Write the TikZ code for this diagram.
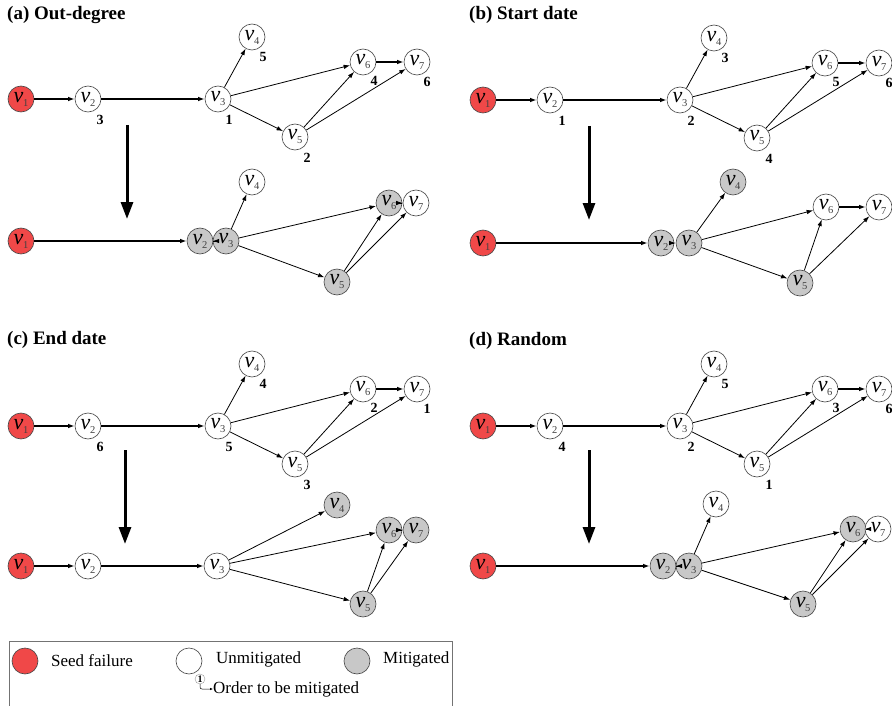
\documentclass[tikz,border=0pt]{standalone}
\usepackage{fontspec}
\setmainfont{Liberation Serif}
\usetikzlibrary{arrows.meta}
\definecolor{seedred}{RGB}{240,72,72}
\definecolor{mitgray}{RGB}{200,200,200}
\definecolor{rimcol}{RGB}{70,70,70}
\newcommand\vv[1]{\fontsize{22}{22}\selectfont\itshape v\kern-0.5pt\raisebox{-4pt}{\fontsize{10.5}{10.5}\selectfont\upshape\color{black!75}#1}}
\tikzset{
  vnode/.style={circle, draw=rimcol, line width=0.6pt, minimum size=26pt, inner sep=0pt, fill=white},
  seed/.style={vnode, fill=seedred},
  mit/.style={vnode, fill=mitgray},
  ord/.style={font=\fontsize{14}{14}\selectfont\bfseries, inner sep=0pt},
  ttl/.style={font=\fontsize{19}{19}\selectfont\bfseries, inner sep=0pt, anchor=west},
  thinedge/.style={-{Latex[length=6.5pt,width=4.5pt]}, line width=0.8pt},
  thickedge/.style={-{Latex[length=6.5pt,width=4.5pt]}, line width=1.7pt},
  bigarrow/.style={-{Triangle[length=17pt,width=12pt]}, line width=3pt},
  legtext/.style={font=\fontsize{17}{17}\selectfont, inner sep=0pt, anchor=west}
}
% top graph: prefix, order labels of v2..v7
\newcommand\topgraph[7]{%
  \node[seed]  (#1v1) at (21,99)  {\vv1};
  \node[vnode] (#1v2) at (88,99)  {\vv2};
  \node[vnode] (#1v3) at (218,99) {\vv3};
  \node[vnode] (#1v4) at (252,37) {\vv4};
  \node[vnode] (#1v5) at (295,137) {\vv5};
  \node[vnode] (#1v6) at (363,62) {\vv6};
  \node[vnode] (#1v7) at (417,62) {\vv7};
  \draw[thickedge] (#1v1) -- (#1v2);
  \draw[thickedge] (#1v2) -- (#1v3);
  \draw[thickedge] (#1v6) -- (#1v7);
  \draw[thinedge] (#1v3) -- (#1v4);
  \draw[thinedge] (#1v3) -- (#1v6);
  \draw[thinedge] (#1v3) -- (#1v5);
  \draw[thinedge] (#1v5) -- (#1v6);
  \draw[thinedge] (#1v5) -- (#1v7);
  \node[ord] (#1o2) at ([shift={(12,21)}]#1v2) {#2};
  \node[ord] (#1o3) at ([shift={(11,21)}]#1v3) {#3};
  \node[ord] (#1o4) at ([shift={(11,20)}]#1v4) {#4};
  \node[ord] (#1o5) at ([shift={(12,21)}]#1v5) {#5};
  \node[ord] (#1o6) at ([shift={(11,19)}]#1v6) {#6};
  \node[ord] (#1o7) at ([shift={(10,20)}]#1v7) {#7};
}
\begin{document}
\begin{tikzpicture}[x=1pt,y=-1pt]
\useasboundingbox[fill=white] (0,0) rectangle (892,706);

% ---------- (a) ----------
\begin{scope}
  \node[ttl] (ta) at (7,15) {(a) Out-degree};
  \topgraph{a}{3}{1}{5}{2}{4}{6}
  \coordinate (aA1) at (127,125);
  \coordinate (aA2) at (127,219);
  \draw[bigarrow] (aA1) -- (aA2);
  \node[seed]  (ab1) at (21,241)  {\vv1};
  \node[mit]   (ab2) at (200,241) {\vv2};
  \node[mit]   (ab3) at (226,241) {\vv3};
  \node[vnode] (ab4) at (252,182) {\vv4};
  \node[mit]   (ab5) at (337,282) {\vv5};
  \node[mit]   (ab6) at (389,203) {\vv6};
  \node[vnode] (ab7) at (416,203) {\vv7};
  \draw[thickedge] (ab1) -- (ab2);
  \draw[thinedge] (ab2) -- (ab3);
  \draw[thinedge] (ab3) -- (ab4);
  \draw[thinedge] (ab3) -- (ab6);
  \draw[thinedge] (ab3) -- (ab5);
  \draw[thinedge] (ab5) -- (ab6);
  \draw[thinedge] (ab5) -- (ab7);
  \draw[thinedge] (ab6) -- (ab7);
\end{scope}

% ---------- (b) ----------
\begin{scope}[shift={(462,1)}]
  \node[ttl] (tb) at (7,14) {(b) Start date};
  \topgraph{b}{1}{2}{3}{4}{5}{6}
  \coordinate (bA1) at (127,125);
  \coordinate (bA2) at (127,219);
  \draw[bigarrow] (bA1) -- (bA2);
  \node[seed]  (bb1) at (21,242)  {\vv1};
  \node[mit]   (bb2) at (199,242) {\vv2};
  \node[mit]   (bb3) at (227,242) {\vv3};
  \node[mit]   (bb4) at (271,181) {\vv4};
  \node[mit]   (bb5) at (338,282) {\vv5};
  \node[vnode] (bb6) at (364,206) {\vv6};
  \node[vnode] (bb7) at (417,206) {\vv7};
  \draw[thickedge] (bb1) -- (bb2);
  \draw[thinedge] (bb2) -- (bb3);
  \draw[thinedge] (bb3) -- (bb4);
  \draw[thinedge] (bb3) -- (bb6);
  \draw[thinedge] (bb3) -- (bb5);
  \draw[thinedge] (bb5) -- (bb6);
  \draw[thinedge] (bb5) -- (bb7);
  \draw[thickedge] (bb6) -- (bb7);
\end{scope}

% ---------- (c) ----------
\begin{scope}[shift={(0,327)}]
  \node[ttl] (tc) at (7,13) {(c) End date};
  \topgraph{c}{6}{5}{4}{3}{2}{1}
  \coordinate (cA1) at (125,123);
  \coordinate (cA2) at (125,217);
  \draw[bigarrow] (cA1) -- (cA2);
  \node[seed]  (cb1) at (21,239)  {\vv1};
  \node[vnode] (cb2) at (88,239)  {\vv2};
  \node[vnode] (cb3) at (217,239) {\vv3};
  \node[mit]   (cb4) at (337,178) {\vv4};
  \node[mit]   (cb5) at (363,277) {\vv5};
  \node[mit]   (cb6) at (389,203) {\vv6};
  \node[mit]   (cb7) at (416,203) {\vv7};
  \draw[thickedge] (cb1) -- (cb2);
  \draw[thickedge] (cb2) -- (cb3);
  \draw[thinedge] (cb3) -- (cb4);
  \draw[thinedge] (cb3) -- (cb6);
  \draw[thinedge] (cb3) -- (cb5);
  \draw[thinedge] (cb5) -- (cb6);
  \draw[thinedge] (cb5) -- (cb7);
  \draw[thinedge] (cb6) -- (cb7);
\end{scope}

% ---------- (d) ----------
\begin{scope}[shift={(462,327)}]
  \node[ttl] (td) at (7,14) {(d) Random};
  \topgraph{d}{4}{2}{5}{1}{3}{6}
  \coordinate (dA1) at (127,123);
  \coordinate (dA2) at (127,217);
  \draw[bigarrow] (dA1) -- (dA2);
  \node[seed]  (db1) at (21,239)  {\vv1};
  \node[mit]   (db2) at (201,239) {\vv2};
  \node[mit]   (db3) at (227,239) {\vv3};
  \node[vnode] (db4) at (254,177) {\vv4};
  \node[mit]   (db5) at (341,277) {\vv5};
  \node[mit]   (db6) at (391,202) {\vv6};
  \node[vnode] (db7) at (416,202) {\vv7};
  \draw[thickedge] (db1) -- (db2);
  \draw[thinedge] (db2) -- (db3);
  \draw[thinedge] (db3) -- (db4);
  \draw[thinedge] (db3) -- (db6);
  \draw[thinedge] (db3) -- (db5);
  \draw[thinedge] (db5) -- (db6);
  \draw[thinedge] (db5) -- (db7);
  \draw[thinedge] (db6) -- (db7);
\end{scope}

% ---------- legend ----------
\coordinate (LBL) at (9,706);
\coordinate (LTL) at (9,641);
\coordinate (LTR) at (452,641);
\coordinate (LBR) at (452,706);
\draw[draw=black!55, line width=0.8pt] (LBL) -- (LTL) -- (LTR) -- (LBR);
\node[seed]  (lseed) at (25,661)  {};
\node[legtext] (lseedt) at (51,661) {Seed failure};
\node[vnode] (lun) at (189,661) {};
\node[legtext] (lunt) at (216,659) {Unmitigated};
\node[mit]   (lmit) at (357,661) {};
\node[legtext] (lmitt) at (383,659) {Mitigated};
\node[circle, draw=black!40, line width=0.4pt, fill=white, minimum size=10pt, inner sep=0pt,
      font=\fontsize{10}{10}\selectfont\bfseries] (lord) at (200,679) {1};
\node[legtext] (lordt) at (213,689) {Order to be mitigated};
\draw[-{Latex[length=3pt,width=2.5pt]}, line width=0.5pt, rounded corners=2pt] (lord.south) |- (lordt.west);
\end{tikzpicture}
\end{document}
